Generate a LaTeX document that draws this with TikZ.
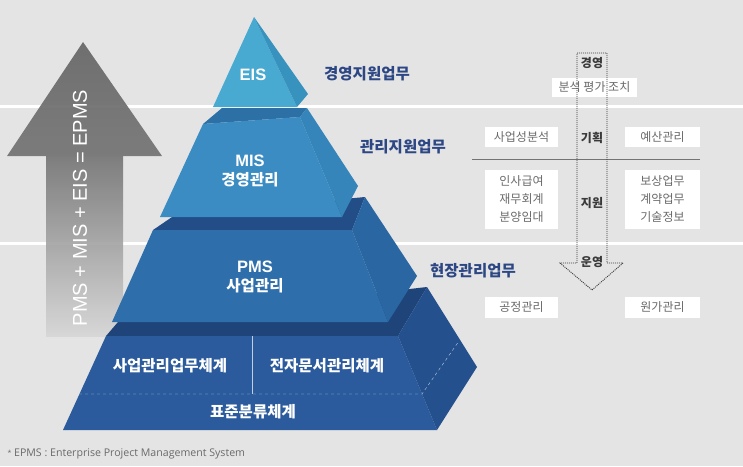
\documentclass[tikz,border=0pt]{standalone}
\usepackage{fontspec}
\setmainfont{Liberation Sans}
\newfontfamily\krfont{Noto Sans CJK KR}
\newfontfamily\notefont{Open Sans}

\definecolor{bg}{HTML}{E4E4E4}
\definecolor{navy}{HTML}{2D4784}
\definecolor{boxtext}{HTML}{6A6A6A}
\definecolor{flowtext}{HTML}{3A3A3A}
\definecolor{eisfront}{HTML}{48A9D1}
\definecolor{eisside}{HTML}{3792BE}
\definecolor{misfront}{HTML}{3A8CC2}
\definecolor{mistop}{HTML}{2D70A6}
\definecolor{misside}{HTML}{3584BA}
\definecolor{pmsfront}{HTML}{2D6EAB}
\definecolor{pmstop}{HTML}{224D86}
\definecolor{pmsside}{HTML}{2966A2}
\definecolor{basefront}{HTML}{2B5B9C}
\definecolor{basetop}{HTML}{1E4479}
\definecolor{baseside}{HTML}{24508E}

\begin{document}
\begin{tikzpicture}[x=1pt, y=-1pt,
  tier/.style={font=\krfont\bfseries\fontsize{15.5}{19}\selectfont, text=white, align=center},
  task/.style={font=\krfont\bfseries\fontsize{15.5}{18}\selectfont, text=navy},
  itembox/.style={fill=white, font=\krfont\fontsize{12}{18}\selectfont, text=boxtext,
    align=center, inner sep=0pt},
  flowlbl/.style={font=\krfont\bfseries\fontsize{12}{14}\selectfont, text=flowtext}]

  % Background and bands
  \fill[bg] (0,0) rectangle (743,466);
  \useasboundingbox (0,0) rectangle (743,466);
  \draw[white, line width=3pt] (0,106) -- (743,106);
  \draw[white, line width=3pt] (0,243) -- (743,243);

  % Sum arrow
  \shade[top color=black!60, bottom color=black!55, fill opacity=0.92]
    (83,42) -- (162,156) -- (7,156) -- cycle;
  \shade[top color=black!54, middle color=black!40, bottom color=black!16, fill opacity=0.92]
    (123,156) rectangle (46,336);
  \node[font=\fontsize{20}{24}\selectfont, text=white, rotate=90] (sum) at (80,208)
    {PMS + MIS + EIS = EPMS};

  % Base tier
  \fill[basetop] (106,336) -- (118,322) -- (427,287) -- (398,336) -- cycle;
  \fill[basefront] (106,336) -- (398,336) -- (437,430) -- (63,430) -- cycle;
  \fill[baseside] (398,336) -- (427,287) -- (477,367) -- (437,430) -- cycle;
  \draw[white!70!basefront, dashed, thin] (79,394) -- (422,394) -- (459,341);
  \draw[white!70!basefront, thin] (252,336) -- (252,394);

  % PMS tier
  \fill[pmstop] (153,230) -- (175,215) -- (365,197) -- (352,230) -- cycle;
  \fill[pmsfront] (153,230) -- (352,230) -- (388,322) -- (112,322) -- cycle;
  \fill[pmsside] (352,230) -- (365,197) -- (417,276) -- (388,322) -- cycle;

  % MIS tier
  \fill[mistop] (203,124) -- (222,108) -- (307,108) -- (300,117) -- cycle;
  \fill[misfront] (203,124) -- (300,117) -- (342,217) -- (160,217) -- cycle;
  \fill[misside] (300,117) -- (307,108) -- (358,186) -- (342,217) -- cycle;

  % EIS tier
  \fill[eisfront] (254,17) -- (297,107) -- (213,107) -- cycle;
  \fill[eisside] (254,17) -- (308,94) -- (297,107) -- cycle;

  % Tier labels
  \node[tier] (eis) at (253,75) {\rmfamily\bfseries\fontsize{16.5}{19}\selectfont EIS};
  \node[tier] (mis) at (250,171) {{\rmfamily\bfseries\fontsize{16.5}{19}\selectfont MIS}\\경영관리};
  \node[tier] (pms) at (255,277) {{\rmfamily\bfseries\fontsize{16.5}{19}\selectfont PMS}\\사업관리};
  \node[tier] (bizsys) at (170,366) {사업관리업무체계};
  \node[tier] (docsys) at (327,366) {전자문서관리체계};
  \node[tier] (stdsys) at (253,412) {표준분류체계};

  % Task labels
  \node[task] (exec) at (367,74) {경영지원업무};
  \node[task] (admin) at (403,147) {관리지원업무};
  \node[task] (field) at (473,271) {현장관리업무};

  % Item boxes
  \node[itembox, minimum width=85pt, minimum height=19pt] (eval) at (594.5,87.5) {분석 평가 조치};
  \node[itembox, minimum width=73pt, minimum height=20pt] (feas) at (521.5,137) {사업성분석};
  \node[itembox, minimum width=75pt, minimum height=20pt] (budget) at (662.5,137) {예산관리};
  \node[itembox, minimum width=73pt, minimum height=59pt] (hr) at (521.5,199.5)
    {인사급여\\재무회계\\분양임대};
  \node[itembox, minimum width=75pt, minimum height=59pt] (comp) at (662.5,199.5)
    {보상업무\\계약업무\\기술정보};
  \node[itembox, minimum width=73pt, minimum height=21pt] (sched) at (521.5,307.5) {공정관리};
  \node[itembox, minimum width=75pt, minimum height=21pt] (cost) at (662.5,307.5) {원가관리};

  % Divider
  \draw[black!55, line width=0.8pt] (472,159) -- (700,159);

  % Flow arrow
  \draw[flowtext, line width=0.9pt, dash pattern=on 1pt off 1pt]
    (577,53) -- (607,53) -- (607,263) -- (623,263) -- (592,290) -- (560,263) -- (577,263) -- cycle;
  \node[flowlbl] (mgmt) at (592,63) {경영};
  \node[flowlbl] (plan) at (592,138) {기획};
  \node[flowlbl] (supp) at (592,203) {지원};
  \node[flowlbl] (oper) at (592,262) {운영};

  % Footnote
  \node[font=\notefont\fontsize{10.6}{12}\selectfont, text=boxtext, anchor=west] (note) at (4,454)
    {\raisebox{1pt}{\scriptsize *} EPMS : Enterprise Project Management System};

\end{tikzpicture}
\end{document}
